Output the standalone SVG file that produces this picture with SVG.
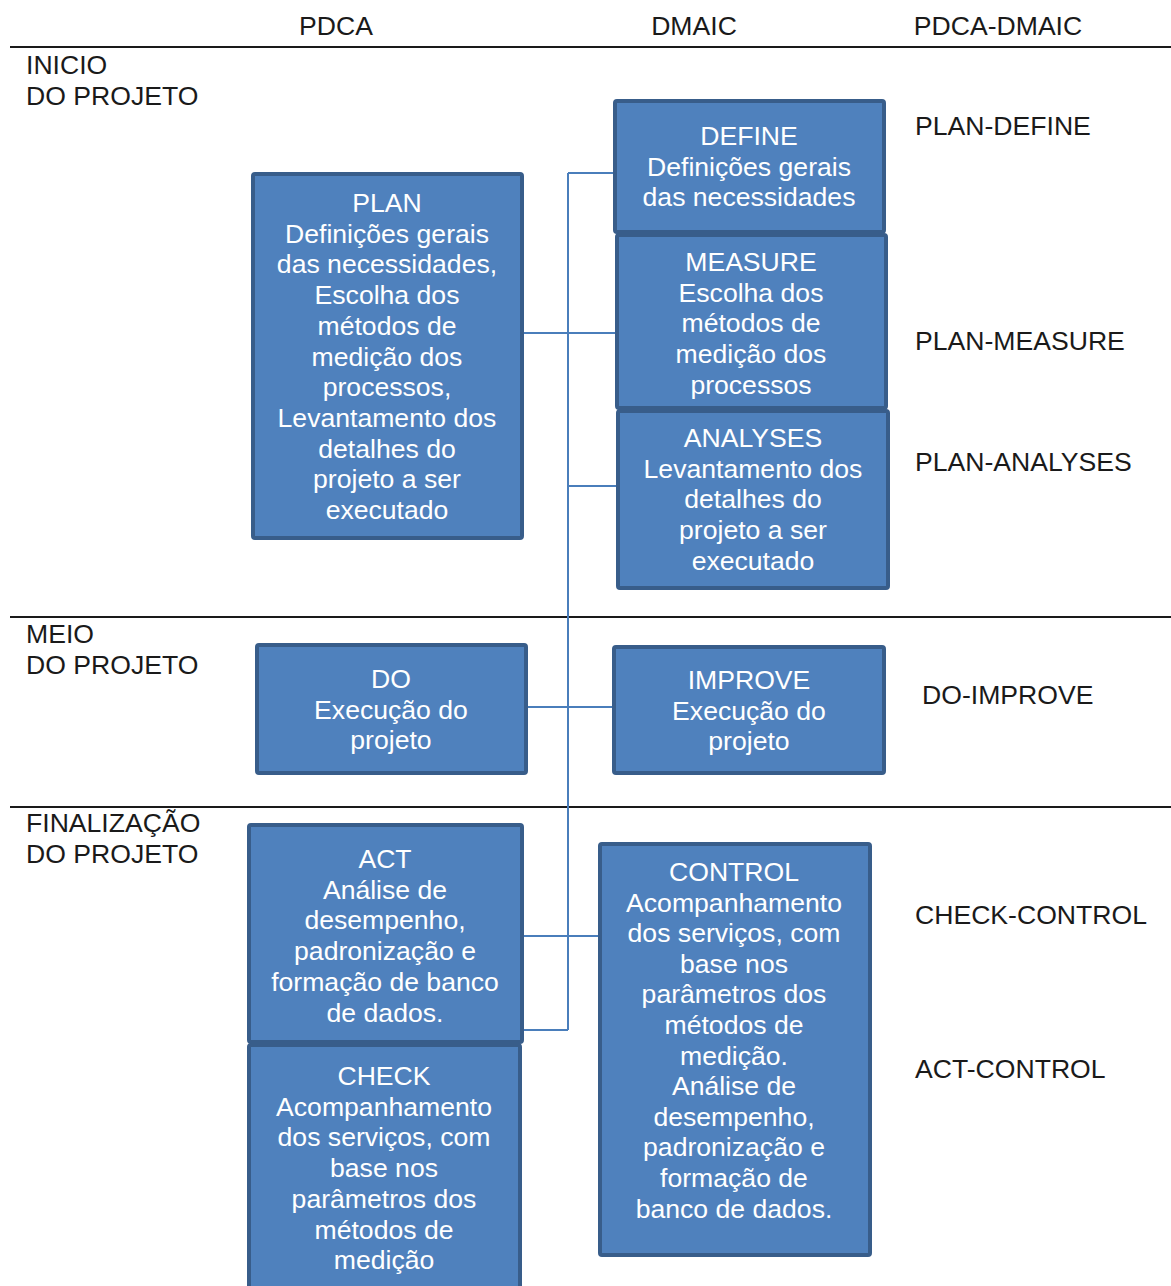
<svg xmlns="http://www.w3.org/2000/svg" width="1171" height="1286" viewBox="0 0 1171 1286">
<style>
.lbl{font-family:"Liberation Sans",Arial,sans-serif;font-size:26.6px;fill:#1a1a1a}
.box{fill:#4F81BD;stroke:#385D8A;stroke-width:4}
.bt{font-family:"Liberation Sans",Arial,sans-serif;font-size:26.6px;fill:#ffffff;text-anchor:middle}
.sep{stroke:#1a1a1a;stroke-width:2}
.con{stroke:#4A7EBB;stroke-width:2;fill:none}
</style>
<rect width="1171" height="1286" fill="#ffffff"/>
<g id="header">
<text class="lbl" x="336" y="35" text-anchor="middle">PDCA</text>
<text class="lbl" x="694" y="35" text-anchor="middle">DMAIC</text>
<text class="lbl" x="998" y="35" text-anchor="middle">PDCA-DMAIC</text>
<line class="sep" x1="10" y1="47" x2="1171" y2="47"/>
<line class="sep" x1="10" y1="617" x2="1171" y2="617"/>
<line class="sep" x1="10" y1="807" x2="1171" y2="807"/>
<text class="lbl" x="26" y="74">INICIO<tspan x="26" dy="31">DO PROJETO</tspan></text>
<text class="lbl" x="26" y="643">MEIO<tspan x="26" dy="31">DO PROJETO</tspan></text>
<text class="lbl" x="26" y="832">FINALIZAÇÃO<tspan x="26" dy="31">DO PROJETO</tspan></text>
<text class="lbl" x="915" y="135">PLAN-DEFINE</text>
<text class="lbl" x="915" y="350">PLAN-MEASURE</text>
<text class="lbl" x="915" y="471">PLAN-ANALYSES</text>
<text class="lbl" x="922" y="704">DO-IMPROVE</text>
<text class="lbl" x="915" y="924">CHECK-CONTROL</text>
<text class="lbl" x="915" y="1078">ACT-CONTROL</text>
</g>
<g id="connectors">
<line class="con" x1="568" y1="173" x2="568" y2="1030"/>
<line class="con" x1="568" y1="173" x2="615" y2="173"/>
<line class="con" x1="524" y1="333" x2="617" y2="333"/>
<line class="con" x1="568" y1="486" x2="618" y2="486"/>
<line class="con" x1="527" y1="707" x2="614" y2="707"/>
<line class="con" x1="523" y1="936" x2="600" y2="936"/>
<line class="con" x1="523" y1="1030" x2="568" y2="1030"/>
</g>
<g id="plan">
<rect class="box" x="253" y="174" width="269" height="364" rx="2"/>
<text class="bt" x="387" y="212">PLAN<tspan x="387" dy="30.7">Definições gerais</tspan><tspan x="387" dy="30.7">das necessidades,</tspan><tspan x="387" dy="30.7">Escolha dos</tspan><tspan x="387" dy="30.7">métodos de</tspan><tspan x="387" dy="30.7">medição dos</tspan><tspan x="387" dy="30.7">processos,</tspan><tspan x="387" dy="30.7">Levantamento dos</tspan><tspan x="387" dy="30.7">detalhes do</tspan><tspan x="387" dy="30.7">projeto a ser</tspan><tspan x="387" dy="30.7">executado</tspan></text>
</g>
<g id="define">
<rect class="box" x="615" y="101" width="269" height="131" rx="2"/>
<text class="bt" x="749" y="145">DEFINE<tspan x="749" dy="30.7">Definições gerais</tspan><tspan x="749" dy="30.7">das necessidades</tspan></text>
</g>
<g id="measure">
<rect class="box" x="617" y="235" width="269" height="173" rx="2"/>
<text class="bt" x="751" y="271">MEASURE<tspan x="751" dy="30.7">Escolha dos</tspan><tspan x="751" dy="30.7">métodos de</tspan><tspan x="751" dy="30.7">medição dos</tspan><tspan x="751" dy="30.7">processos</tspan></text>
</g>
<g id="analyses">
<rect class="box" x="618" y="411" width="270" height="177" rx="2"/>
<text class="bt" x="753" y="447">ANALYSES<tspan x="753" dy="30.7">Levantamento dos</tspan><tspan x="753" dy="30.7">detalhes do</tspan><tspan x="753" dy="30.7">projeto a ser</tspan><tspan x="753" dy="30.7">executado</tspan></text>
</g>
<g id="do">
<rect class="box" x="257" y="645" width="269" height="128" rx="2"/>
<text class="bt" x="391" y="688">DO<tspan x="391" dy="30.7">Execução do</tspan><tspan x="391" dy="30.7">projeto</tspan></text>
</g>
<g id="improve">
<rect class="box" x="614" y="647" width="270" height="126" rx="2"/>
<text class="bt" x="749" y="689">IMPROVE<tspan x="749" dy="30.7">Execução do</tspan><tspan x="749" dy="30.7">projeto</tspan></text>
</g>
<g id="check">
<rect class="box" x="249" y="1045" width="271" height="260" rx="2"/>
<text class="bt" x="384" y="1085">CHECK<tspan x="384" dy="30.7">Acompanhamento</tspan><tspan x="384" dy="30.7">dos serviços, com</tspan><tspan x="384" dy="30.7">base nos</tspan><tspan x="384" dy="30.7">parâmetros dos</tspan><tspan x="384" dy="30.7">métodos de</tspan><tspan x="384" dy="30.7">medição</tspan></text>
</g>
<g id="act">
<rect class="box" x="249" y="825" width="273" height="217" rx="2"/>
<text class="bt" x="385" y="868">ACT<tspan x="385" dy="30.7">Análise de</tspan><tspan x="385" dy="30.7">desempenho,</tspan><tspan x="385" dy="30.7">padronização e</tspan><tspan x="385" dy="30.7">formação de banco</tspan><tspan x="385" dy="30.7">de dados.</tspan></text>
</g>
<g id="control">
<rect class="box" x="600" y="844" width="270" height="411" rx="2"/>
<text class="bt" x="734" y="881">CONTROL<tspan x="734" dy="30.6">Acompanhamento</tspan><tspan x="734" dy="30.6">dos serviços, com</tspan><tspan x="734" dy="30.6">base nos</tspan><tspan x="734" dy="30.6">parâmetros dos</tspan><tspan x="734" dy="30.6">métodos de</tspan><tspan x="734" dy="30.6">medição.</tspan><tspan x="734" dy="30.6">Análise de</tspan><tspan x="734" dy="30.6">desempenho,</tspan><tspan x="734" dy="30.6">padronização e</tspan><tspan x="734" dy="30.6">formação de</tspan><tspan x="734" dy="30.6">banco de dados.</tspan></text>
</g>
</svg>
